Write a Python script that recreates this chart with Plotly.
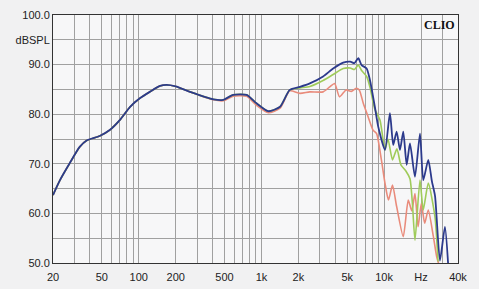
import plotly.graph_objects as go
import math

# ---- data ----
blue_f = [20, 22.8, 27.5, 33, 37.6, 48, 58, 70, 85, 102, 123, 149, 169, 200, 262, 406, 488, 588, 757, 912,
          1138, 1418, 1700, 2060, 2480, 3180, 3840, 4640, 5290, 5720, 6160, 6550, 7200, 7660, 8400, 8950,
          10160, 11150, 11860, 12640, 13460, 14320, 15260, 16240, 17840, 19600, 20840, 22900, 24500, 26000,
          28500, 31300, 33300]
blue_db = [63.7, 66.7, 70.2, 73.4, 74.7, 75.6, 76.8, 78.8, 81.5, 83.2, 84.5, 85.7, 85.9, 85.6, 84.5, 83.0, 82.9, 83.9, 83.9, 82.2,
           80.6, 81.5, 84.9, 85.5, 86.2, 87.6, 89.2, 90.4, 90.6, 90.3, 91.3, 89.9, 89.2, 86.9, 81.5, 77.5,
           72.8, 80.2, 73.8, 76.5, 72.8, 76.5, 69.8, 74.1, 67.4, 76.1, 66.7, 70.8, 66.5, 63.5,
           50.5, 57.3, 49.5]

green_f = [20, 22.8, 27.5, 33, 37.6, 48, 58, 70, 85, 102, 123, 149, 169, 200, 262, 406, 488, 588, 757, 912,
           1138, 1418, 1700, 2060, 2480, 3180, 3840, 4640, 5290, 5720, 6160, 6550, 7200, 7660, 8400, 9260,
           10160, 10740, 11700, 12700, 13700, 15080, 16240, 17000, 17840, 19600, 20840, 22900, 25960, 27500]
green_db = [63.7, 66.7, 70.2, 73.4, 74.7, 75.6, 76.8, 78.8, 81.5, 83.2, 84.5, 85.7, 85.9, 85.6, 84.5, 83.0, 82.9, 83.9, 83.9, 82.2,
            80.6, 81.5, 84.9, 85.3, 85.6, 86.8, 88.0, 89.2, 89.3, 89.0, 89.9, 88.8, 87.6, 85.5, 81.0, 78.8,
            72.8, 75.0, 70.8, 73.0, 69.8, 68.5, 67.0, 62.0, 54.6, 66.7, 60.7, 66.1, 59.3, 50.3]

red_f = [20, 22.8, 27.5, 33, 37.6, 48, 58, 70, 85, 102, 123, 149, 169, 200, 262, 406, 488, 588, 757, 912,
         1138, 1418, 1700, 2060, 2480, 3180, 3600, 3950, 4330, 4900, 5400, 5910, 6270, 6760, 7400, 8120, 8680,
         9500, 10160, 10850, 11700, 12640, 14320, 15720, 16800, 17840, 18900, 20100, 21400, 22900, 25200,
         26800, 28500]
red_db = [63.7, 66.7, 70.2, 73.4, 74.7, 75.6, 76.8, 78.8, 81.5, 83.2, 84.5, 85.7, 85.9, 85.6, 84.5, 82.9, 82.7, 83.6, 83.6, 81.8,
          80.3, 81.2, 84.7, 84.2, 84.5, 84.5, 85.5, 86.2, 83.5, 84.9, 84.6, 85.2, 84.9, 82.2, 79.5, 76.8, 76.1,
          70.8, 66.1, 62.7, 65.7, 61.4, 55.3, 62.7, 60.5, 64.0, 57.3, 62.0, 58.0, 60.7, 55.3,
          51.3, 49.0]

x_tickvals = [20, 50, 100, 200, 500, 1000, 2000, 5000, 10000, 20000, 40000]
x_ticktext = ["20", "50", "100", "200", "500", "1k", "2k", "5k", "10k", "Hz", "40k"]
x_gridvals = [20, 30, 40, 50, 60, 70, 80, 90, 100, 200, 300, 400, 500, 600, 700, 800, 900,
              1000, 2000, 3000, 4000, 5000, 6000, 7000, 8000, 9000, 10000, 20000, 30000, 40000]
y_tickvals = [50, 55, 60, 65, 70, 75, 80, 85, 90, 95, 100]
y_ticktext = ["50.0", "", "60.0", "", "70.0", "", "80.0", "", "90.0", "dBSPL", "100.0"]

fig = go.Figure()
fig.add_trace(go.Scatter(x=red_f, y=red_db, mode="lines", line=dict(color="#e98b7b", width=1.6, shape="spline", smoothing=0.6)))
fig.add_trace(go.Scatter(x=green_f, y=green_db, mode="lines", line=dict(color="#9fcb5a", width=1.6, shape="spline", smoothing=0.6)))
fig.add_trace(go.Scatter(x=blue_f, y=blue_db, mode="lines", line=dict(color="#2c3a8c", width=1.8, shape="spline", smoothing=0.6)))

fig.update_layout(
    width=479, height=289,
    margin=dict(l=53, r=21, t=15, b=26, autoexpand=False),
    paper_bgcolor="#f1f1f2",
    plot_bgcolor="#f7f7f8",
    showlegend=False,
    font=dict(family="Liberation Sans, Arial, sans-serif", size=11, color="#222222"),
    xaxis=dict(type="log", range=[math.log10(20), math.log10(40000)], automargin=False,
               tickvals=x_tickvals, ticktext=x_ticktext, showgrid=False,
               minor=dict(tickvals=x_gridvals, showgrid=True, gridcolor="#a0a0a0", gridwidth=1, ticks=""),
               showline=True, linecolor="#333333", linewidth=1, mirror=True,
               ticks="", zeroline=False, tickfont=dict(size=11), ticklabelstandoff=4),
    yaxis=dict(range=[50, 100], tickvals=y_tickvals, ticktext=y_ticktext, automargin=False,
               showgrid=True, gridcolor="#a0a0a0", gridwidth=1,
               showline=True, linecolor="#333333", linewidth=1, mirror=True,
               ticks="", zeroline=False, tickfont=dict(size=11), ticklabelstandoff=0),
)
fig.add_annotation(text="<b>CLIO</b>", xref="paper", yref="paper", x=0.997, y=0.995,
                   xanchor="right", yanchor="top", showarrow=False,
                   font=dict(family="Liberation Serif, serif", size=12, color="#111111"))

fig.write_html("out.html", config={"displayModeBar": False},
               post_script="document.body.style.margin='0px';document.body.style.background='#f1f1f2';")
